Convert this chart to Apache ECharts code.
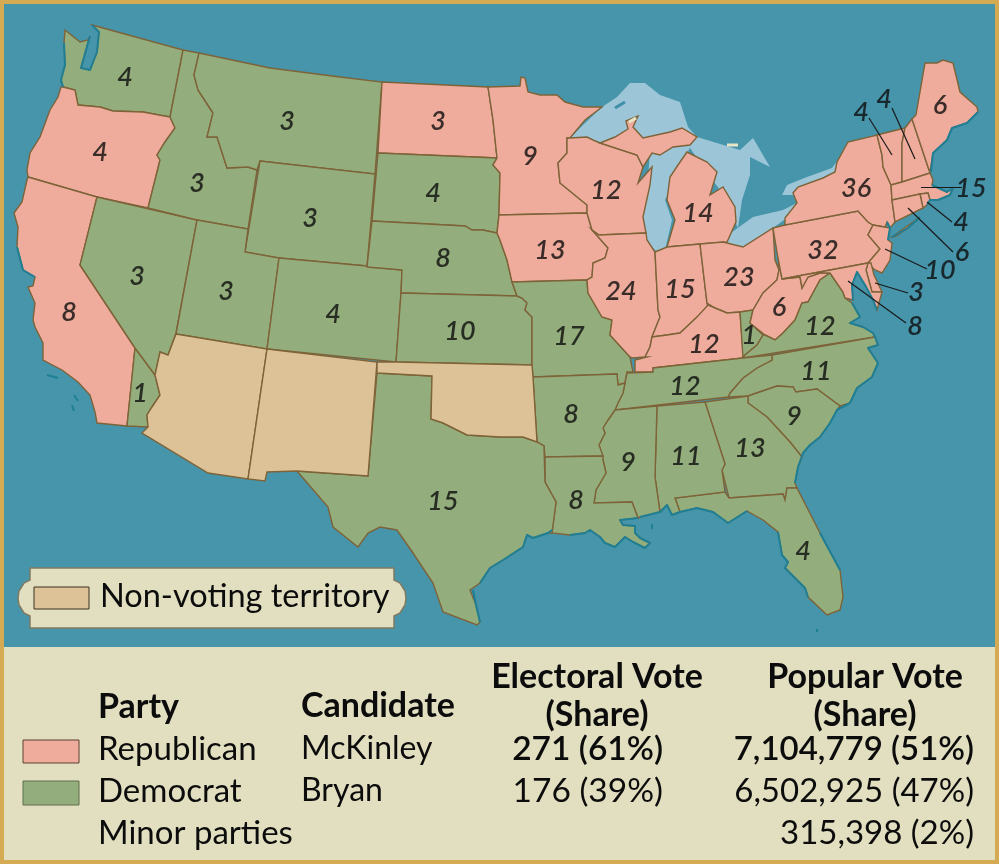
<!DOCTYPE html>
<html><head><meta charset="utf-8">
<style>html,body{margin:0;padding:0;background:#d4aa50}#c{width:999px;height:864px}</style>
<script src="https://cdn.jsdelivr.net/npm/echarts@6/dist/echarts.min.js"></script>
</head><body><div id="c"></div>
<script>
// ---------- data ----------
const stateNames = ['Washington','Oregon','California','California (Bryan)','Nevada','Idaho','Montana','Wyoming','Utah','Colorado','North Dakota','South Dakota','Nebraska','Kansas','Minnesota','Iowa','Missouri','Wisconsin','Illinois','Michigan','Indiana','Ohio','Kentucky','Kentucky (Bryan)','West Virginia','Virginia','North Carolina','South Carolina','Tennessee','Georgia','Florida','Alabama','Mississippi','Arkansas','Louisiana','Texas','Pennsylvania','New York','Vermont','New Hampshire','Maine','Massachusetts','Rhode Island','Connecticut','New Jersey','Delaware','Maryland'];
const stateVotes = [4,4,8,1,3,3,3,3,3,4,3,4,8,10,9,13,17,12,24,14,15,23,12,1,6,12,11,9,12,13,4,11,9,8,8,15,32,36,4,4,6,15,4,6,10,3,8];
const stateParty = ['D','R','R','D','D','D','D','D','D','D','R','D','D','D','R','R','D','R','R','R','R','R','R','D','R','D','D','D','D','D','D','D','D','D','D','D','R','R','R','R','R','R','R','R','R','R','R'];
const territories = ['Arizona','New Mexico','Oklahoma and Indian Territory'];
const tableHead = ['Party','Candidate','Electoral Vote','(Share)','Popular Vote','(Share)'];
const partyRows = ['Republican','Democrat','Minor parties'];
const candidates = ['McKinley','Bryan',''];
const electoral = ['271 (61%)','176 (39%)',''];
const popular = ['7,104,779 (51%)','6,502,925 (47%)','315,398 (2%)'];
const territoryLegend = 'Non-voting territory';

// ---------- label anchors on the map ----------
const labelAt = [[125,77],[100,152],[69,312],[140,393],[137,276],[197,183],[287,121],[310,218],[226,291],[333,314],[438,121],[433,193],[443,258],[460,331],[530,156],[550,250],[569,336],[606,190],[621,291],[698,213],[680,289],[739,277],[704,344],[749,335],[779,307],[820,326],[816,371],[794,416],[685,386],[750,448],[803,551],[686,456],[628,462],[571,414],[576,500],[443,501],[823,250],[856,188],[861,112],[884,99],[940,105],[971,188],[961,222],[962,252],[940,270],[916,292],[915,326]];
const leaders = [[[869,118],[892,155]],[[892,108],[915,159]],[[921,187],[962,187]],[[927,202],[952,222]],[[908,208],[953,252]],[[885,249],[927,269]],[[875,283],[908,293]],[[848,281],[906,323]]];

// ---------- outlines, in page pixels ----------
const outlines = {
 'Washington':[[[65,30],[80,42],[88,40],[90,36],[86,50],[81,68],[90,70],[97,52],[99,32],[92,25],[183,50],[170,117],[143,112],[113,111],[100,107],[78,105],[75,90],[63,87],[61,80],[65,65],[64,43]]],
 'Oregon':[[[63,87],[75,90],[78,105],[100,107],[113,111],[143,112],[170,117],[175,128],[165,142],[157,155],[160,160],[148,208],[97,197],[28,177],[27,170],[30,153],[40,137],[50,110],[58,97],[61,87]]],
 'California':[[[28,177],[97,197],[80,265],[135,348],[127,426],[97,423],[95,412],[90,395],[78,382],[62,370],[43,360],[43,343],[35,327],[33,320],[35,303],[28,287],[33,286],[35,277],[23,270],[17,247],[18,227],[14,213],[22,202],[27,180]]],
 'California (Bryan)':[[[135,348],[155,375],[160,395],[152,407],[147,415],[148,427],[127,426]]],
 'Nevada':[[[97,197],[197,220],[176,333],[168,355],[160,352],[155,375],[135,348],[80,265]]],
 'Idaho':[[[183,50],[199,53],[194,75],[198,90],[213,113],[207,137],[217,137],[227,168],[248,167],[257,170],[248,229],[197,220],[148,208],[160,160],[157,155],[165,142],[175,128],[170,117]]],
 'Montana':[[[199,53],[270,68],[340,77],[382,82],[375,174],[330,169],[260,161],[257,170],[248,167],[227,168],[217,137],[207,137],[213,113],[198,90],[194,75]]],
 'Wyoming':[[[260,161],[375,174],[371,221],[367,266],[279,258],[245,252]]],
 'Utah':[[[197,220],[248,229],[245,252],[279,258],[267,349],[176,334]]],
 'Colorado':[[[279,258],[367,266],[402,270],[401,293],[396,362],[267,349]]],
 'North Dakota':[[[382,82],[488,87],[493,120],[497,158],[378,153]]],
 'South Dakota':[[[378,153],[497,158],[493,165],[500,173],[499,215],[497,233],[483,230],[472,230],[465,226],[372,221]]],
 'Nebraska':[[[372,221],[465,226],[472,230],[483,230],[497,233],[500,240],[507,260],[512,282],[517,296],[401,293],[402,270],[367,267]]],
 'Kansas':[[[401,293],[517,296],[522,298],[527,303],[525,310],[532,317],[532,365],[396,362]]],
 'Minnesota':[[[488,87],[520,86],[521,77],[525,78],[528,92],[540,95],[557,95],[565,102],[583,107],[602,107],[585,120],[570,138],[567,138],[567,153],[558,163],[560,183],[587,205],[587,213],[499,215],[500,173],[493,165],[497,158],[493,120]]],
 'Iowa':[[[499,215],[587,213],[592,230],[608,248],[605,258],[593,263],[592,277],[587,280],[512,282],[507,260],[500,240],[497,233]]],
 'Missouri':[[[512,282],[587,280],[588,293],[602,317],[612,320],[610,335],[630,357],[633,372],[627,372],[625,383],[618,385],[617,374],[533,377],[532,365],[532,317],[525,310],[527,303],[522,298],[517,296]]],
 'Wisconsin':[[[570,138],[587,137],[593,140],[600,143],[637,155],[643,167],[638,183],[652,167],[650,185],[643,217],[646,233],[599,235],[592,230],[587,213],[587,205],[560,183],[558,163],[567,153],[567,138]]],
 'Illinois':[[[599,235],[646,233],[647,240],[655,252],[658,310],[660,317],[652,337],[650,347],[645,357],[632,358],[630,357],[610,335],[612,320],[602,317],[588,293],[587,280],[592,277],[593,263],[605,258],[608,248],[592,230]]],
 'Michigan':[[[[687,152],[707,162],[717,172],[710,195],[723,187],[735,207],[736,222],[727,242],[700,244],[667,247],[675,220],[667,200],[670,177],[678,165]]],[[[600,143],[615,137],[628,129],[626,121],[638,116],[633,127],[643,138],[670,132],[682,128],[697,137],[690,145],[673,147],[660,155],[652,153],[643,167],[637,155]]]],
 'Indiana':[[[655,252],[667,247],[700,244],[707,303],[708,310],[697,317],[680,333],[667,335],[652,337],[660,317],[658,310]]],
 'Ohio':[[[700,244],[723,242],[743,247],[773,228],[775,260],[779,270],[777,280],[763,293],[753,310],[740,312],[727,313],[715,308],[707,303]]],
 'Kentucky':[[[652,337],[667,335],[680,333],[697,317],[708,305],[715,308],[727,313],[740,312],[743,352],[743,358],[653,368],[653,372],[635,372],[635,360],[647,357],[645,357],[650,347]]],
 'Kentucky (Bryan)':[[[740,312],[753,310],[750,323],[763,335],[757,345],[745,355],[743,358]]],
 'West Virginia':[[[778,258],[782,279],[800,277],[802,288],[808,277],[820,273],[830,273],[820,280],[808,302],[802,303],[795,320],[783,333],[775,340],[765,335],[750,323],[753,310],[763,293],[777,280],[779,270]]],
 'Virginia':[[[830,273],[843,292],[845,298],[852,303],[860,317],[850,323],[863,327],[873,333],[875,337],[743,358],[745,355],[757,345],[763,335],[765,335],[775,340],[783,333],[795,320],[802,303],[808,302],[820,280]]],
 'North Carolina':[[[772,355],[875,337],[878,345],[868,348],[878,363],[872,377],[857,388],[850,403],[840,406],[817,389],[796,392],[793,387],[777,386],[748,396],[728,397],[730,393],[743,378],[757,368],[772,360]]],
 'South Carolina':[[[748,396],[777,386],[793,387],[796,392],[817,389],[840,406],[837,410],[830,423],[820,437],[810,445],[803,453],[802,457],[790,442],[767,417],[748,403]]],
 'Tennessee':[[[627,373],[653,372],[653,368],[743,358],[772,355],[772,360],[757,368],[743,378],[730,393],[728,397],[615,410],[618,403],[623,393],[625,383]]],
 'Georgia':[[[705,402],[748,396],[748,403],[767,417],[790,442],[802,457],[798,467],[795,483],[797,488],[787,488],[785,500],[783,494],[729,498],[722,470],[725,464]]],
 'Florida':[[[675,498],[725,492],[729,498],[783,494],[785,500],[787,488],[797,488],[820,533],[840,570],[843,597],[840,610],[827,615],[808,597],[805,588],[797,580],[785,568],[788,562],[782,555],[778,532],[763,520],[747,511],[728,523],[713,512],[697,508],[680,512]]],
 'Alabama':[[[657,406],[705,402],[725,464],[722,470],[725,492],[675,498],[680,512],[672,515],[667,505],[660,512],[655,477]]],
 'Mississippi':[[[615,410],[657,406],[655,477],[660,512],[640,517],[638,518],[632,502],[594,503],[596,490],[606,473],[603,460],[599,445],[605,433],[603,428],[608,420]]],
 'Arkansas':[[[533,377],[617,374],[618,385],[625,383],[623,393],[618,403],[615,410],[608,420],[603,428],[605,433],[599,445],[603,456],[545,457],[544,446],[537,442]]],
 'Louisiana':[[[545,457],[603,456],[603,460],[606,473],[596,490],[594,503],[632,502],[638,518],[620,520],[623,525],[635,526],[635,533],[640,538],[650,543],[645,548],[633,542],[625,537],[615,547],[605,543],[600,537],[590,530],[585,533],[570,535],[552,533],[556,502],[545,482]]],
 'Texas':[[[377,373],[432,376],[431,419],[443,423],[467,435],[500,437],[523,437],[537,442],[544,446],[545,482],[556,502],[552,533],[548,533],[533,538],[527,535],[523,547],[503,560],[490,568],[480,583],[470,590],[476,605],[480,622],[477,625],[443,612],[433,583],[413,553],[397,530],[380,527],[368,533],[358,547],[333,527],[328,507],[297,471],[368,476]]],
 'Pennsylvania':[[[773,228],[785,225],[858,211],[868,222],[873,225],[868,235],[880,249],[868,263],[782,279],[778,258]]],
 'New York':[[[[785,225],[785,218],[797,203],[793,193],[798,187],[823,178],[835,172],[837,162],[848,142],[877,135],[882,155],[883,167],[891,185],[892,200],[895,222],[890,228],[887,222],[885,227],[873,225],[868,222],[858,211]]],[[[892,237],[920,217],[908,228],[896,236]]]],
 'Vermont':[[[877,135],[905,128],[902,143],[902,182],[891,185],[883,167],[882,155]]],
 'New Hampshire':[[[905,128],[912,119],[928,167],[930,173],[902,182],[902,143]]],
 'Maine':[[[912,119],[916,115],[925,63],[937,63],[943,60],[953,63],[960,92],[977,107],[978,112],[967,123],[952,128],[947,140],[933,153],[930,172],[928,167]]],
 'Massachusetts':[[[891,185],[902,182],[930,173],[933,180],[932,185],[947,192],[953,188],[950,195],[938,200],[930,200],[928,193],[920,194],[892,200]]],
 'Rhode Island':[[[920,194],[928,193],[930,200],[927,205],[923,208]]],
 'Connecticut':[[[892,200],[920,194],[923,208],[895,222]]],
 'New Jersey':[[[873,225],[890,228],[888,240],[892,243],[890,260],[882,273],[875,270],[868,263],[880,249],[868,235]]],
 'Delaware':[[[868,263],[871,263],[874,275],[882,292],[872,292],[866,270]]],
 'Maryland':[[[782,279],[868,263],[866,270],[872,292],[882,292],[877,310],[873,300],[865,285],[857,272],[852,285],[853,300],[845,298],[843,292],[830,273],[820,273],[808,277],[802,288],[800,277]]],
 'Arizona':[[[176,334],[267,349],[248,479],[208,473],[142,433],[148,427],[147,415],[152,407],[160,395],[155,375],[160,352],[168,355]]],
 'New Mexico':[[[267,349],[377,362],[368,476],[297,471],[267,472],[265,481],[248,479]]],
 'Oklahoma and Indian Territory':[[[377,362],[396,362],[532,365],[533,377],[537,442],[523,437],[500,437],[467,435],[443,423],[431,419],[432,376],[377,373]]]
};
const lakes = {
 'Lake Superior':[[[566,142],[583,125],[602,107],[617,97],[630,83],[645,83],[660,95],[680,102],[688,127],[700,140],[660,145],[630,140],[600,150]]],
 'Lake Michigan':[[[650,150],[692,143],[680,170],[665,200],[672,220],[665,250],[658,253],[647,242],[641,217],[648,180]]],
 'Lake Huron':[[[688,145],[697,137],[740,150],[753,138],[770,167],[750,157],[750,175],[742,200],[738,228],[720,190],[705,170]]],
 'Lake Erie':[[[720,244],[728,235],[753,217],[783,210],[799,202],[795,212],[773,228],[743,248]]],
 'Lake Ontario':[[[782,195],[787,185],[807,177],[832,168],[838,160],[837,175],[823,180],[798,189],[795,195]]]
};
const backdrop = {
 'frame':[[[0,0],[999,0],[999,864],[0,864]]],
 'ocean':[[[4,4],[995,4],[995,647],[4,647]]],
 'panel':[[[4,647],[995,647],[995,860],[4,860]]]
};
// darker tidal shorelines and small islands drawn over the land edges
const tidalCoast = [
 [[92,25],[99,32],[97,52],[90,70],[81,68],[86,50],[90,36]],
 [[64,43],[65,65],[61,80],[63,87]],
 [[35,277],[23,270],[17,247]],
 [[47,375],[58,378]],[[74,395],[78,401]],[[72,405],[74,411]],
 [[473,590],[476,605],[480,622]],
 [[480,583],[490,568],[503,560],[523,547],[527,535],[533,538],[548,533],[552,530]],
 [[570,535],[585,533],[590,530],[600,537],[605,543],[615,547],[625,537],[633,542],[645,548],[650,543],[640,538],[635,533],[635,526],[623,525],[620,520],[638,518]],
 [[652,524],[652,529]],
 [[640,517],[660,512],[667,505],[672,515],[680,512],[697,508],[713,512],[728,523],[747,511]],
 [[778,532],[782,555],[788,562],[785,568],[797,580],[805,588],[808,597]],
 [[820,533],[840,570]],
 [[795,483],[798,467],[803,453],[810,445],[820,437],[830,423],[837,410],[850,403],[857,388],[872,377],[878,363],[868,348],[878,345],[875,337],[873,333],[863,327],[850,323],[860,317],[852,303]],
 [[853,300],[852,285],[857,272],[865,285],[873,300],[877,310]],
 [[892,237],[908,228],[920,217]],[[887,222],[890,228],[888,240]],
 [[932,185],[947,192],[953,188],[950,195],[938,200],[930,200],[927,205]],
 [[931,172],[933,153],[947,140],[952,128],[967,123],[978,112]],
 [[817,629],[817,632]]
];
const lakeIslands = [[[615,108],[625,102]]];
const paleIslands = [[[629,122],[636,118]],[[727,145],[738,145]]];

// ---------- styles ----------
const COLORS = {R:'#efac9c', D:'#93ae7c', T:'#dec297'};
const EDGE = '#7e6339', OCEAN='#4695ab', LAKE='#9cc5d7', PANEL='#e2dfc1', GOLD='#d4ab52', INK='#0c0c0c', TIDE='#1f7f94';
const FONT = 'Lato';

const features = [];
const regions = [];
function add(name, rings, style){
  const multi = Array.isArray(rings[0][0][0]);
  features.push({type:'Feature',properties:{name},geometry:{type:multi?'MultiPolygon':'Polygon',coordinates:rings}});
  regions.push({name,itemStyle:style,silent:true});
}
add('frame',backdrop.frame,{areaColor:GOLD,borderWidth:0});
add('ocean',backdrop.ocean,{areaColor:OCEAN,borderWidth:0});
add('panel',backdrop.panel,{areaColor:PANEL,borderWidth:0});
Object.keys(lakes).forEach(k=>add(k,lakes[k],{areaColor:LAKE,borderWidth:0}));
stateNames.forEach((n,i)=>add(n,outlines[n],{areaColor:COLORS[stateParty[i]],borderColor:EDGE,borderWidth:1.4}));
territories.forEach(n=>add(n,outlines[n],{areaColor:COLORS.T,borderColor:EDGE,borderWidth:1.4}));
echarts.registerMap('us1896',{type:'FeatureCollection',features});

function txt(text,x,y,size,weight,align){
  return {type:'text',x,y,z:20,silent:true,style:{text,font:(weight||'normal')+' '+size+'px '+FONT,fill:INK,textAlign:align||'left',textVerticalAlign:'middle'}};
}
const ROW=[749,791,833];
const graphics=[
 {type:'polygon',z:10,silent:true,shape:{points:[[30,568],[394,568],[394,580],[400,583],[405,591],[406,598],[405,605],[400,613],[394,616],[394,628],[30,628],[30,616],[24,613],[19,605],[18,598],[19,591],[24,583],[30,580]]},style:{fill:PANEL,stroke:'#7f7b63',lineWidth:1.5}},
 {type:'rect',z:11,silent:true,shape:{x:34,y:587,width:55,height:22},style:{fill:COLORS.T,stroke:'#3a3020',lineWidth:1}},
 txt(territoryLegend,100,597,32.5),
 {type:'rect',z:11,silent:true,shape:{x:23,y:740,width:56,height:23},style:{fill:COLORS.R,stroke:'#5c4030',lineWidth:1}},
 {type:'rect',z:11,silent:true,shape:{x:23,y:781,width:56,height:24},style:{fill:COLORS.D,stroke:'#5f6f4a',lineWidth:1}},
 txt(tableHead[0],98,707,34,'bold'),
 txt(tableHead[1],301,706,34,'bold'),
 txt(tableHead[2],597,677,34,'bold','center'),
 txt(tableHead[3],597,715,34,'bold','center'),
 txt(tableHead[4],865,677,34,'bold','center'),
 txt(tableHead[5],865,715,34,'bold','center')
];
partyRows.forEach((p,i)=>{
  graphics.push(txt(p,98,ROW[i],33));
  if(candidates[i]) graphics.push(txt(candidates[i],301,ROW[i],32));
  if(electoral[i]) graphics.push(txt(electoral[i],663,ROW[i],33.5,i===0?'600':'normal','right'));
  graphics.push(txt(popular[i],974,ROW[i],33,i===0?'600':'normal','right'));
});

const chart = echarts.init(document.getElementById('c'),null,{renderer:'canvas'});
const thin = (c,color,width)=>({coords:c,lineStyle:{color,width,opacity:1}});
chart.setOption({
  animation:false,
  backgroundColor:GOLD,
  geo:{map:'us1896',left:0,top:0,width:999,height:864,roam:false,silent:true,
       projection:{project:p=>p,unproject:p=>p},
       label:{show:false},emphasis:{disabled:true},select:{disabled:true},
       itemStyle:{areaColor:OCEAN,borderWidth:0},regions},
  series:[
   {type:'lines',coordinateSystem:'geo',silent:true,z:4,polyline:true,symbol:'none',
    lineStyle:{curveness:0,join:'round'},
    data:[].concat(tidalCoast.map(c=>thin(c,TIDE,2)),lakeIslands.map(c=>thin(c,'#3f90a8',3)),paleIslands.map(c=>thin(c,'#e8e6c4',3)))},
   {type:'lines',coordinateSystem:'geo',silent:true,z:5,polyline:false,
    lineStyle:{color:'#1a1a1a',width:1.2,opacity:1,curveness:0},symbol:'none',
    data:leaders.map(c=>({coords:c}))},
   {type:'scatter',coordinateSystem:'geo',silent:true,z:6,symbolSize:1,itemStyle:{color:'rgba(0,0,0,0)'},
    label:{show:true,position:'inside',formatter:p=>String(p.value[2]),fontFamily:FONT,fontStyle:'italic',fontWeight:600,fontSize:27,color:INK},
    data:stateNames.map((n,i)=>({name:n,value:[labelAt[i][0],labelAt[i][1],stateVotes[i]]}))}
  ],
  graphic:graphics
});
</script></body></html>
